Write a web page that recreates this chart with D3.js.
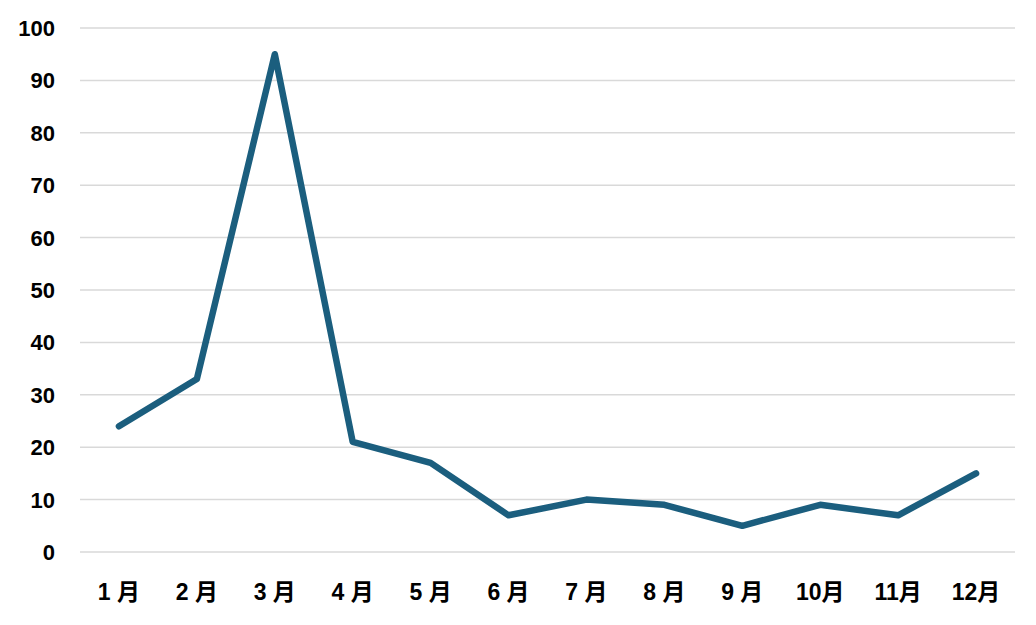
<!DOCTYPE html>
<html><head><meta charset="utf-8">
<script src="https://cdn.jsdelivr.net/npm/d3@7"></script>
<style>body{margin:0;background:#fff}</style>
</head><body><svg id="c" width="1036" height="625"></svg>
<script>
const categories = ["1 月","2 月","3 月","4 月","5 月","6 月","7 月","8 月","9 月","10月","11月","12月"];
const values = [24,33,95,21,17,7,10,9,5,9,7,15];
const yTicks = [0,10,20,30,40,50,60,70,80,90,100];

(function(){
const svg = d3.select("#c");
const mLeft = 80, mRight = 1015, mTop = 28, mBottom = 552;
const x = d3.scaleBand().domain(categories).range([mLeft, mRight]);
const y = d3.scaleLinear().domain([0,100]).range([mBottom, mTop]);
const font = "'Liberation Sans', Arial, 'Noto Sans CJK JP', sans-serif";

svg.append("g").selectAll("line").data(yTicks).join("line")
  .attr("x1", mLeft).attr("x2", mRight)
  .attr("y1", d => y(d)).attr("y2", d => y(d))
  .attr("stroke", "#d9d9d9").attr("stroke-width", 1.5);

svg.append("g").selectAll("text").data(yTicks).join("text")
  .attr("x", 55).attr("y", d => y(d)).attr("dy", "0.36em")
  .attr("text-anchor", "end")
  .attr("font-family", font).attr("font-weight", "bold").attr("font-size", 22)
  .attr("fill", "#000").text(d => d);

svg.append("g").selectAll("text").data(categories).join("text")
  .attr("x", d => x(d) + x.bandwidth()/2).attr("y", 600)
  .attr("text-anchor", "middle")
  .attr("font-family", font).attr("font-weight", "bold").attr("font-size", 23)
  .attr("fill", "#000").text(d => d);

const line = d3.line()
  .x((d,i) => x(categories[i]) + x.bandwidth()/2)
  .y(d => y(d));
svg.append("path").datum(values)
  .attr("d", line).attr("fill", "none")
  .attr("stroke", "#1b5e7e").attr("stroke-width", 6.5)
  .attr("stroke-linejoin", "round").attr("stroke-linecap", "round");
})();
</script></body></html>
